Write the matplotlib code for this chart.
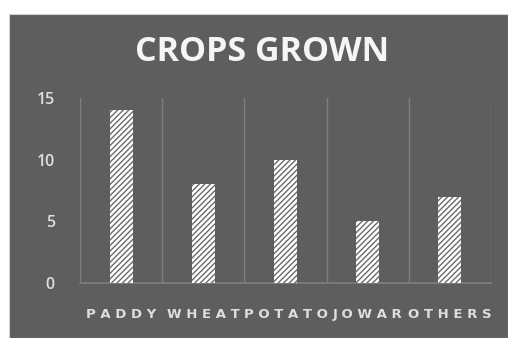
import matplotlib
matplotlib.use('Agg')

import matplotlib.pyplot as plt
from matplotlib.patches import Rectangle

crops = ["PADDY", "WHEAT", "POTATO", "JOWAR", "OTHERS"]
grown = [14, 8, 10, 5, 7]
yticks = [0, 5, 10, 15]

bg = '#5e5e5e'
grid = '#7f7f7f'
txt = '#dedede'

plt.rcParams['hatch.linewidth'] = 1.0
plt.rcParams['hatch.color'] = '#6a6a6a'

W, H = 508, 338
fig = plt.figure(figsize=(W / 100, H / 100), dpi=100, facecolor='white')

# dark chart frame
fig.patches.append(Rectangle((9 / W, 0), 1 - 9 / W, 1 - 14 / H,
                             transform=fig.transFigure, facecolor=bg,
                             edgecolor='#d0d0d0', linewidth=0.8, zorder=-1))

ax = fig.add_axes([80 / W, (H - 283) / H, (491 - 80) / W, (283 - 98) / H])
ax.set_facecolor(bg)

x = range(len(crops))
ax.bar(x, grown, width=0.28, facecolor='white', edgecolor='#6a6a6a',
       hatch='//////', linewidth=0, zorder=3)

ax.set_xlim(-0.5, len(crops) - 0.5)
ax.set_ylim(0, 15)
ax.set_yticks(yticks)
ax.set_yticklabels([str(v) for v in yticks], color=txt, fontsize=11.5,
                   fontweight='semibold', family='Open Sans')

# category separators
for b in range(len(crops) + 1):
    ax.axvline(b - 0.5, color=grid, linewidth=1.0, zorder=1)

ax.set_xticks(list(x))
ax.set_xticklabels([" ".join(c) for c in crops], color=txt, fontsize=9.5,
                   fontweight='bold')
ax.tick_params(axis='both', length=0)
ax.tick_params(axis='y', pad=18)
ax.tick_params(axis='x', pad=18)

for s in ['top', 'right', 'left']:
    ax.spines[s].set_visible(False)
ax.spines['bottom'].set_color(grid)
ax.spines['bottom'].set_linewidth(1.2)

fig.text(262 / W, 1 - 52 / H, "CROPS GROWN", ha='center', va='center',
         color='#f5f5f5', fontsize=24.5, fontweight='bold', family='Open Sans')

plt.savefig("out.png", dpi=100, facecolor='white')
plt.close()
